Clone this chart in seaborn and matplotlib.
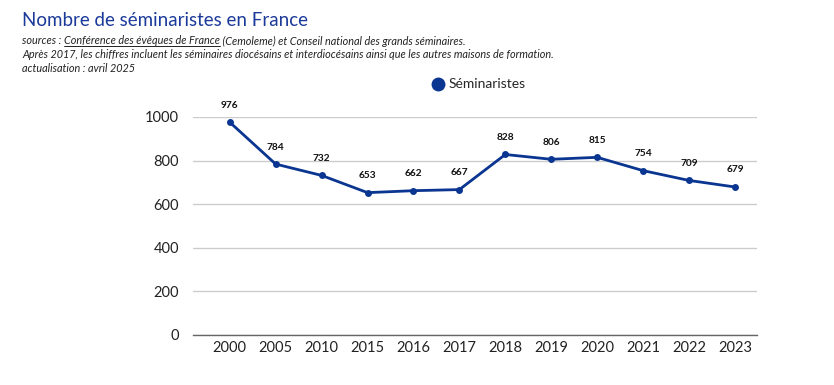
import matplotlib
matplotlib.use("Agg")
import matplotlib.pyplot as plt
import seaborn as sns
import pandas as pd

years = ["2000", "2005", "2010", "2015", "2016", "2017", "2018", "2019", "2020", "2021", "2022", "2023"]
seminaristes = [976, 784, 732, 653, 662, 667, 828, 806, 815, 754, 709, 679]
yticks = [0, 200, 400, 600, 800, 1000]

title = "Nombre de séminaristes en France"
src_a = "sources : "
src_link = "Conférence des évêques de France"
src_b = " (Cemoleme) et Conseil national des grands séminaires."
note = "Après 2017, les chiffres incluent les séminaires diocésains et interdiocésains ainsi que les autres maisons de formation."
update = "actualisation : avril 2025"

sns.set_theme(style="white")
plt.rcParams["font.family"] = ["Lato", "DejaVu Sans"]

line_color = "#0a3590"
title_color = "#1b3a9a"

df = pd.DataFrame({"Année": years, "Séminaristes": seminaristes})

fig = plt.figure(figsize=(8.34, 3.85), dpi=100)
ax = fig.add_axes([193/834, (385-335)/385, (757-193)/834, (335-117)/385])

sns.lineplot(data=df, x="Année", y="Séminaristes", ax=ax, color=line_color,
             linewidth=2, marker="o", markersize=5, markeredgewidth=0,
             label="Séminaristes", sort=False)

for i, v in enumerate(seminaristes):
    ax.annotate(str(v), (i, v), xytext=(0, 9), textcoords="offset points",
                ha="center", va="bottom", fontsize=7.3, fontweight="bold",
                color="#111111", annotation_clip=False)

ax.set_xlim(-0.8, 11.48)
ax.set_ylim(0, 1000)
ax.set_yticks(yticks)
ax.set_yticklabels([str(t) for t in yticks])
ax.grid(axis="y", color="#cccccc", linewidth=1)
ax.grid(axis="x", visible=False)
for s in ["top", "right", "left"]:
    ax.spines[s].set_visible(False)
ax.spines["bottom"].set_color("#666666")
ax.spines["bottom"].set_linewidth(1)
ax.tick_params(axis="both", length=0, labelsize=10.5, colors="#222222")
ax.tick_params(axis="y", pad=10)
ax.tick_params(axis="x", pad=4)
ax.set_xlabel("")
ax.set_ylabel("")

leg = ax.legend(loc="lower center", bbox_to_anchor=(482/834, (385-103)/385),
                bbox_transform=fig.transFigure, frameon=False, fontsize=10,
                handlelength=0, handletextpad=0.8, markerscale=2)
for h in leg.legend_handles:
    h.set_linestyle("none")
    h.set_markersize(10)

fig.text(22/834, 1 - 20/385, title, fontsize=13.5, color=title_color, va="center", ha="left")

y1 = 1 - 41/385
fs = 7.8
t1 = fig.text(22/834, y1, src_a, fontsize=fs, style="italic", color="#222222", va="center")
fig.canvas.draw()
r = fig.canvas.get_renderer()
bb = t1.get_window_extent(r)
x2 = bb.x1 / fig.bbox.width
t2 = fig.text(x2, y1, src_link, fontsize=fs, style="italic", color="#222222", va="center")
bb2 = t2.get_window_extent(r)
x3 = bb2.x1 / fig.bbox.width
fig.text(x3, y1, src_b, fontsize=fs, style="italic", color="#222222", va="center")
uy = (bb2.y0 + 1) / fig.bbox.height
fig.add_artist(plt.Line2D([x2, x3], [uy, uy], transform=fig.transFigure, color="#222222", linewidth=0.7))

fig.text(22/834, 1 - 55/385, note, fontsize=fs, style="italic", color="#222222", va="center")
fig.text(22/834, 1 - 68/385, update, fontsize=fs, style="italic", color="#222222", va="center")

fig.savefig("out.png", dpi=100)
